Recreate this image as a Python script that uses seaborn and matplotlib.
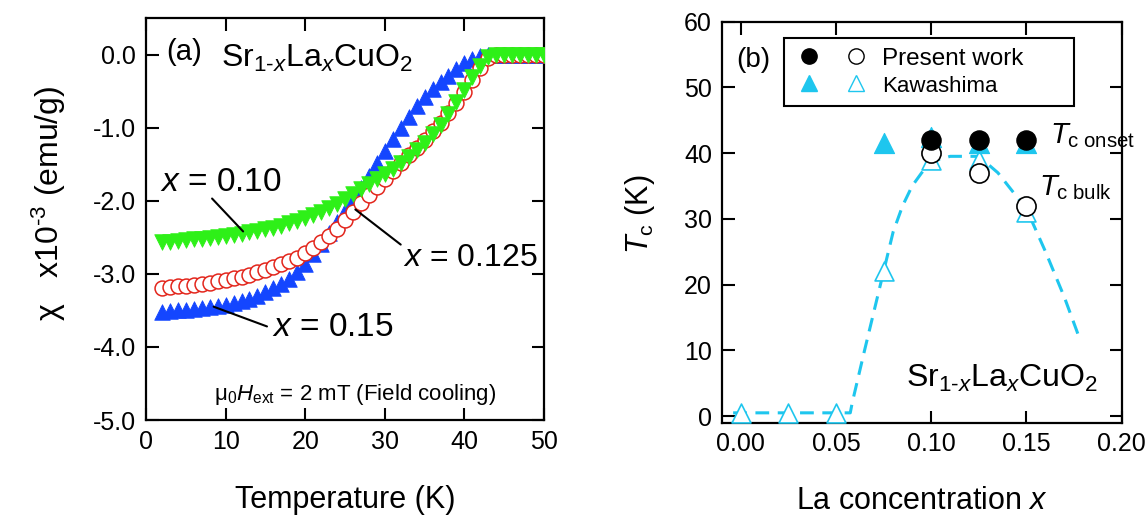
import matplotlib
matplotlib.use("Agg")
import matplotlib.pyplot as plt
import seaborn as sns
from matplotlib.ticker import FormatStrFormatter
from matplotlib.legend_handler import HandlerTuple
from matplotlib.lines import Line2D

# ---------------- panel (a): susceptibility vs temperature ----------------
temperature = list(range(2, 51))

chi_x015 = [-3.52, -3.51, -3.50, -3.49, -3.48, -3.47, -3.46, -3.44, -3.42, -3.40,
            -3.37, -3.34, -3.30, -3.25, -3.20, -3.14, -3.07, -2.98, -2.86, -2.73,
            -2.59, -2.44, -2.29, -2.14, -1.99, -1.83, -1.66, -1.49, -1.32, -1.16,
            -1.00, -0.85, -0.70, -0.58, -0.47, -0.38, -0.29, -0.20, -0.12, -0.06,
            -0.02, 0.0, 0.0, 0.0, 0.0, 0.0, 0.0, 0.0, 0.0]

chi_x0125 = [-3.19, -3.18, -3.17, -3.16, -3.15, -3.14, -3.12, -3.10, -3.08, -3.06,
             -3.04, -3.01, -2.98, -2.95, -2.91, -2.87, -2.83, -2.78, -2.72, -2.65,
             -2.57, -2.48, -2.38, -2.27, -2.15, -2.03, -1.92, -1.81, -1.70, -1.59,
             -1.48, -1.38, -1.28, -1.17, -1.05, -0.93, -0.80, -0.66, -0.51, -0.35,
             -0.19, -0.05, 0.0, 0.0, 0.0, 0.0, 0.0, 0.0, 0.0]

chi_x010 = [-2.57, -2.56, -2.55, -2.54, -2.53, -2.52, -2.51, -2.50, -2.48, -2.47,
            -2.45, -2.43, -2.41, -2.39, -2.37, -2.34, -2.31, -2.28, -2.24, -2.20,
            -2.15, -2.10, -2.04, -1.98, -1.91, -1.84, -1.77, -1.70, -1.63, -1.56,
            -1.48, -1.40, -1.31, -1.21, -1.09, -0.96, -0.81, -0.65, -0.48, -0.31,
            -0.15, -0.04, 0.0, 0.0, 0.0, 0.0, 0.0, 0.0, 0.0]

temp_ticks = [0, 10, 20, 30, 40, 50]
chi_ticks = [0.0, -1.0, -2.0, -3.0, -4.0, -5.0]

# ---------------- panel (b): Tc vs La concentration ----------------
la_kawa_bulk = [0.0, 0.025, 0.05, 0.075, 0.10, 0.125, 0.15]
tc_kawa_bulk = [0.5, 0.5, 0.5, 22.0, 39.0, 39.0, 31.0]
la_kawa_onset = [0.075, 0.10, 0.125, 0.15]
tc_kawa_onset = [41.5, 42.5, 41.5, 41.5]
la_present = [0.10, 0.125, 0.15]
tc_present_onset = [42.0, 42.0, 42.0]
tc_present_bulk = [40.0, 37.0, 32.0]
guide_x = [-0.004, 0.0575, 0.0585, 0.065, 0.07, 0.075, 0.08, 0.085, 0.09, 0.095,
           0.10, 0.11, 0.125, 0.135, 0.15, 0.16, 0.17, 0.177]
guide_y = [0.5, 0.5, 2.0, 10.0, 16.0, 22.0, 28.0, 32.0, 35.0, 37.0,
           38.7, 39.5, 39.5, 37.0, 31.5, 25.0, 18.0, 12.5]
la_ticks = [0.0, 0.05, 0.10, 0.15, 0.20]
tc_ticks = [0, 10, 20, 30, 40, 50, 60]

BLUE = "#1446ff"
RED = "#e3261c"
GREEN = "#2ef018"
CYAN = "#1ec6ee"

sns.set_theme(style="ticks")
plt.rcParams["font.family"] = ["Liberation Sans", "DejaVu Sans"]
plt.rcParams["mathtext.fontset"] = "custom"
plt.rcParams["mathtext.rm"] = "Liberation Sans"
plt.rcParams["mathtext.it"] = "Liberation Sans:italic"
plt.rcParams["mathtext.bf"] = "Liberation Sans:bold"
plt.rcParams["axes.unicode_minus"] = False
for key in ("text.color", "axes.labelcolor", "xtick.color", "ytick.color",
            "axes.edgecolor", "xtick.labelcolor", "ytick.labelcolor"):
    plt.rcParams[key] = "black"

SUBFORMULA = r"Sr$_{1\text{-}x}$La$_{x}$CuO$_{2}$"

fig = plt.figure(figsize=(11.46, 5.25), dpi=100)
ax1 = fig.add_axes([146 / 1146, 1 - 420 / 525, 398 / 1146, 402 / 525])
ax2 = fig.add_axes([721.7 / 1146, 1 - 422.7 / 525, 400 / 1146, 401.2 / 525])


def style_axes(ax):
    for sp in ax.spines.values():
        sp.set_linewidth(1.6)
        sp.set_color("black")
    ax.tick_params(direction="in", top=True, right=True, length=9, width=1.5,
                   labelsize=18, colors="black", pad=7)
    ax.set_facecolor("white")


# ---- panel (a) ----
sns.scatterplot(x=temperature, y=chi_x015, marker="^", s=125, color=BLUE,
                edgecolor=BLUE, linewidth=0.6, ax=ax1, zorder=3)
sns.scatterplot(x=temperature, y=chi_x0125, marker="o", s=115, color="white",
                edgecolor=RED, linewidth=1.1, ax=ax1, zorder=4)
sns.scatterplot(x=temperature, y=chi_x010, marker="v", s=125, color=GREEN,
                edgecolor=GREEN, linewidth=0.6, ax=ax1, zorder=5)

ax1.set_xlim(0, 50)
ax1.set_ylim(-5.0, 0.5)
ax1.set_xticks(temp_ticks)
ax1.set_yticks(chi_ticks)
ax1.yaxis.set_major_formatter(FormatStrFormatter("%.1f"))
style_axes(ax1)

ax1.text(2.6, 0.04, "(a)", fontsize=21, ha="left", va="center")
ax1.text(9.4, -0.17, SUBFORMULA, fontsize=23, ha="left", va="baseline")

ax1.text(1.7, -1.75, r"$x$ = 0.10", fontsize=24, ha="left", va="center")
ax1.plot([8.3, 12.2], [-1.97, -2.42], color="black", lw=1.5, zorder=6)

ax1.text(32.3, -2.78, r"$x$ = 0.125", fontsize=23, ha="left", va="center")
ax1.plot([26.3, 32.0], [-2.12, -2.6], color="black", lw=1.5, zorder=6)

ax1.text(15.8, -3.74, r"$x$ = 0.15", fontsize=24, ha="left", va="center")
ax1.plot([8.5, 15.2], [-3.45, -3.72], color="black", lw=1.5, zorder=6)

ax1.text(26.3, -4.65, r"$\mathrm{\mu}_{0}$$H_{\mathrm{ext}}$ = 2 mT (Field cooling)",
         fontsize=16, ha="center", va="center")

ax1.set_xlabel("Temperature (K)", fontsize=22)
ax1.set_ylabel(r"χ   x10$^{\text{-}3}$ (emu/g)", fontsize=23)
ax1.xaxis.set_label_coords(0.5, -0.2)
ax1.xaxis.label.set_va("center")
ax1.yaxis.set_label_coords(-0.245, 0.54)
ax1.yaxis.label.set_va("center")

# ---- panel (b) ----
sns.lineplot(x=guide_x, y=guide_y, sort=False, estimator=None, color=CYAN,
             lw=2.2, linestyle=(0, (4.5, 2.8)), ax=ax2, zorder=2)
sns.scatterplot(x=la_kawa_bulk, y=tc_kawa_bulk, marker="^", s=185, color="white",
                edgecolor=CYAN, linewidth=1.2, ax=ax2, zorder=3)
sns.scatterplot(x=la_kawa_onset, y=tc_kawa_onset, marker="^", s=210, color=CYAN,
                edgecolor=CYAN, linewidth=0.8, ax=ax2, zorder=3)
sns.scatterplot(x=la_present, y=tc_present_bulk, marker="o", s=190, color="white",
                edgecolor="black", linewidth=1.2, ax=ax2, zorder=4)
sns.scatterplot(x=la_present, y=tc_present_onset, marker="o", s=190, color="black",
                edgecolor="black", linewidth=1.0, ax=ax2, zorder=5)

ax2.set_xlim(-0.01, 0.20)
ax2.set_ylim(-1, 60)
ax2.set_xticks(la_ticks)
ax2.set_yticks(tc_ticks)
ax2.xaxis.set_major_formatter(FormatStrFormatter("%.2f"))
style_axes(ax2)

ax2.text(-0.0025, 54.1, "(b)", fontsize=20, ha="left", va="center")
ax2.text(0.1625, 42.7, r"$T_{\mathrm{c\ onset}}$", fontsize=21, ha="left", va="center")
ax2.text(0.1565, 34.7, r"$T_{\mathrm{c\ bulk}}$", fontsize=21, ha="left", va="center")
ax2.text(0.0865, 4.4, SUBFORMULA, fontsize=23, ha="left", va="baseline")

h_present = (Line2D([], [], ls="none", marker="o", ms=11, color="black"),
             Line2D([], [], ls="none", marker="o", ms=11, mfc="white", mec="black", mew=1.0))
h_kawa = (Line2D([], [], ls="none", marker="^", ms=11, color=CYAN),
          Line2D([], [], ls="none", marker="^", ms=11, mfc="white", mec=CYAN, mew=1.0))
leg = ax2.legend([h_present, h_kawa], ["Present work      ", "Kawashima"],
                 handler_map={tuple: HandlerTuple(ndivide=None, pad=0.7)},
                 loc="upper left", bbox_to_anchor=(0.155, 0.959),
                 fontsize=17.5, handlelength=3.2, handletextpad=0.45,
                 borderpad=0.4, labelspacing=0.2, borderaxespad=0,
                 fancybox=False, framealpha=1, edgecolor="black")
leg.get_frame().set_linewidth(1.5)
leg.get_texts()[1].set_fontsize(16)

ax2.set_xlabel(r"La concentration $x$", fontsize=22)
ax2.set_ylabel(r"$T_{\mathrm{c}}$ (K)", fontsize=22)
ax2.xaxis.set_label_coords(0.5, -0.195)
ax2.xaxis.label.set_va("center")
ax2.yaxis.set_label_coords(-0.204, 0.52)
ax2.yaxis.label.set_va("center")

fig.savefig("out.png", dpi=100, facecolor="white")
